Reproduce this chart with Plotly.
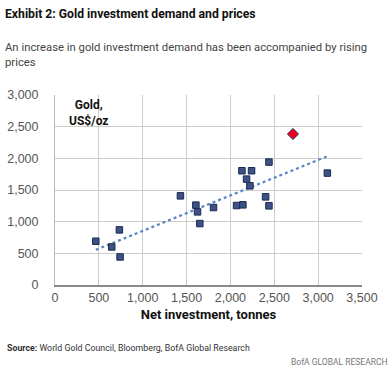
import plotly.graph_objects as go

# Data
net_investment = [465, 647, 734, 742, 1430, 1606, 1625, 1651, 1807, 2070, 2142,
                  2131, 2241, 2184, 2222, 2439, 2401, 2439, 3105]
gold_price = [691, 601, 870, 443, 1408, 1261, 1155, 970, 1223, 1255, 1266,
              1804, 1804, 1672, 1566, 1941, 1392, 1250, 1767]
latest_x = [2713]
latest_y = [2384]
trend_x = [465, 3100]
trend_y = [555, 2030]

x_ticks = [0, 500, 1000, 1500, 2000, 2500, 3000, 3500]
y_ticks = [0, 500, 1000, 1500, 2000, 2500, 3000]

TEXT_FONT = "Roboto, sans-serif"
TICK_FONT = "Liberation Sans, Arial, sans-serif"

fig = go.Figure()
fig.add_trace(go.Scatter(x=trend_x, y=trend_y, mode="lines",
                         line=dict(color="#5b86c4", width=2.2, dash="dot"),
                         hoverinfo="skip", showlegend=False))
fig.add_trace(go.Scatter(x=net_investment, y=gold_price, mode="markers",
                         marker=dict(symbol="square", size=6.5, color="#3d5283",
                                     line=dict(color="#1b2a55", width=1)),
                         showlegend=False))
fig.add_trace(go.Scatter(x=latest_x, y=latest_y, mode="markers",
                         marker=dict(symbol="diamond", size=8.5, color="#e8001c",
                                     line=dict(color="#2a2a5a", width=1)),
                         showlegend=False))

fig.update_layout(
    width=392, height=368,
    margin=dict(l=55, r=30, t=95, b=83),
    paper_bgcolor="white", plot_bgcolor="white",
    font=dict(family=TEXT_FONT, size=12, color="#555555"),
    xaxis=dict(range=[0, 3500], tickvals=x_ticks,
               ticktext=[f"{v:,}" for v in x_ticks],
               showgrid=True, gridcolor="#cccccc", gridwidth=1,
               zeroline=False, showline=True, linecolor="#888888", linewidth=2,
               mirror=False, ticks="", fixedrange=True, automargin=False,
               title=dict(text="<b>Net investment, tonnes</b>",
                          font=dict(family=TEXT_FONT, size=13, color="#111111"),
                          standoff=6),
               tickfont=dict(family=TICK_FONT, size=12.5, color="#555555")),
    yaxis=dict(range=[0, 3000], tickvals=y_ticks,
               ticktext=[f"{v:,}" for v in y_ticks],
               showgrid=True, gridcolor="#cccccc", gridwidth=1,
               zeroline=False, showline=True, linecolor="#bbbbbb", linewidth=1,
               ticks="", ticklabelstandoff=13, fixedrange=True, automargin=False,
               tickfont=dict(family=TICK_FONT, size=12.5, color="#555555")),
    annotations=[
        dict(text="<b>Exhibit 2: Gold investment demand and prices</b>",
             xref="paper", yref="paper", x=-55/307, y=1 + 81/190,
             xanchor="left", yanchor="middle", showarrow=False, xshift=3,
             font=dict(family=TEXT_FONT, size=12.2, color="#111111")),
        dict(text="An increase in gold investment demand has been accompanied by rising<br>prices",
             xref="paper", yref="paper", x=-55/307, y=1 + 40/190,
             xanchor="left", yanchor="middle", showarrow=False, align="left", xshift=3,
             font=dict(family=TEXT_FONT, size=11.3, color="#444444")),
        dict(text="<b>Gold,<br>US$/oz</b>",
             xref="paper", yref="paper", x=33/307, y=1 - 1/190,
             xanchor="center", yanchor="top", showarrow=False, align="center",
             font=dict(family=TEXT_FONT, size=12, color="#111111")),
        dict(text="<b>Source:</b> World Gold Council, Bloomberg, BofA Global Research",
             xref="paper", yref="paper", x=-55/307, y=-63/190,
             xanchor="left", yanchor="middle", showarrow=False, xshift=5,
             font=dict(family=TEXT_FONT, size=8.8, color="#333333")),
        dict(text="BofA GLOBAL RESEARCH",
             xref="paper", yref="paper", x=1 + 30/307, y=-77/190,
             xanchor="right", yanchor="middle", showarrow=False, xshift=-2,
             font=dict(family=TEXT_FONT, size=8.5, color="#777777")),
    ],
)

fig.write_html("out.html", config={"displayModeBar": False},
               post_script="document.body.style.margin='0';")
